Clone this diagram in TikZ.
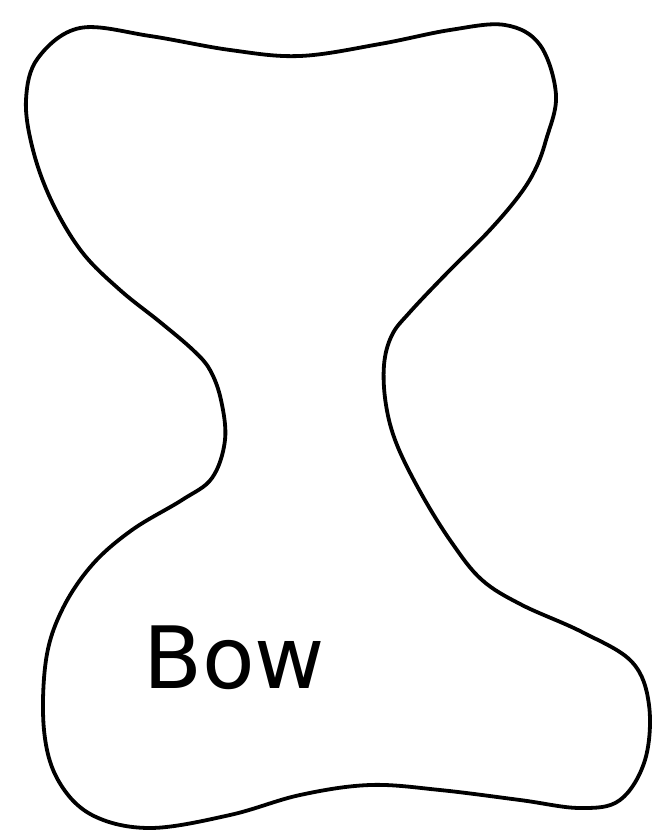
\documentclass[tikz,border=0pt]{standalone}
\usepackage{fontspec}
\newfontfamily\bowfont{DejaVu Sans}
\begin{document}
\begin{tikzpicture}[x=1pt,y=-1pt,outline/.style={line width=3.8pt,line join=round}]
\useasboundingbox (0,0) rectangle (652,834);
\draw[outline] plot[smooth cycle,tension=0.6] coordinates {
(38,58) (80,28) (150,36) (230,50) (300,56) (380,44) (450,30) (505,25) (540,45) (556,95) (546,140) (535,170) (518,197) (488,232) (448,272) (410,312) (392,335) (384,365) (386,405) (397,445) (422,495) (452,543) (482,580) (522,605) (582,632) (632,662) (649,705) (645,760) (620,800) (580,808) (520,800) (440,790) (370,785) (300,795) (230,815) (150,828) (92,815) (58,780) (44,730) (46,660) (62,610) (92,565) (132,530) (182,500) (212,478) (225,440) (221,400) (210,370) (193,350) (160,322) (120,290) (82,252) (52,202) (33,150) (26,100)};
\node[font=\bowfont\fontsize{86}{90}\selectfont,anchor=base west,inner sep=0pt] (label) at (143,688) {Bow};
\end{tikzpicture}
\end{document}
